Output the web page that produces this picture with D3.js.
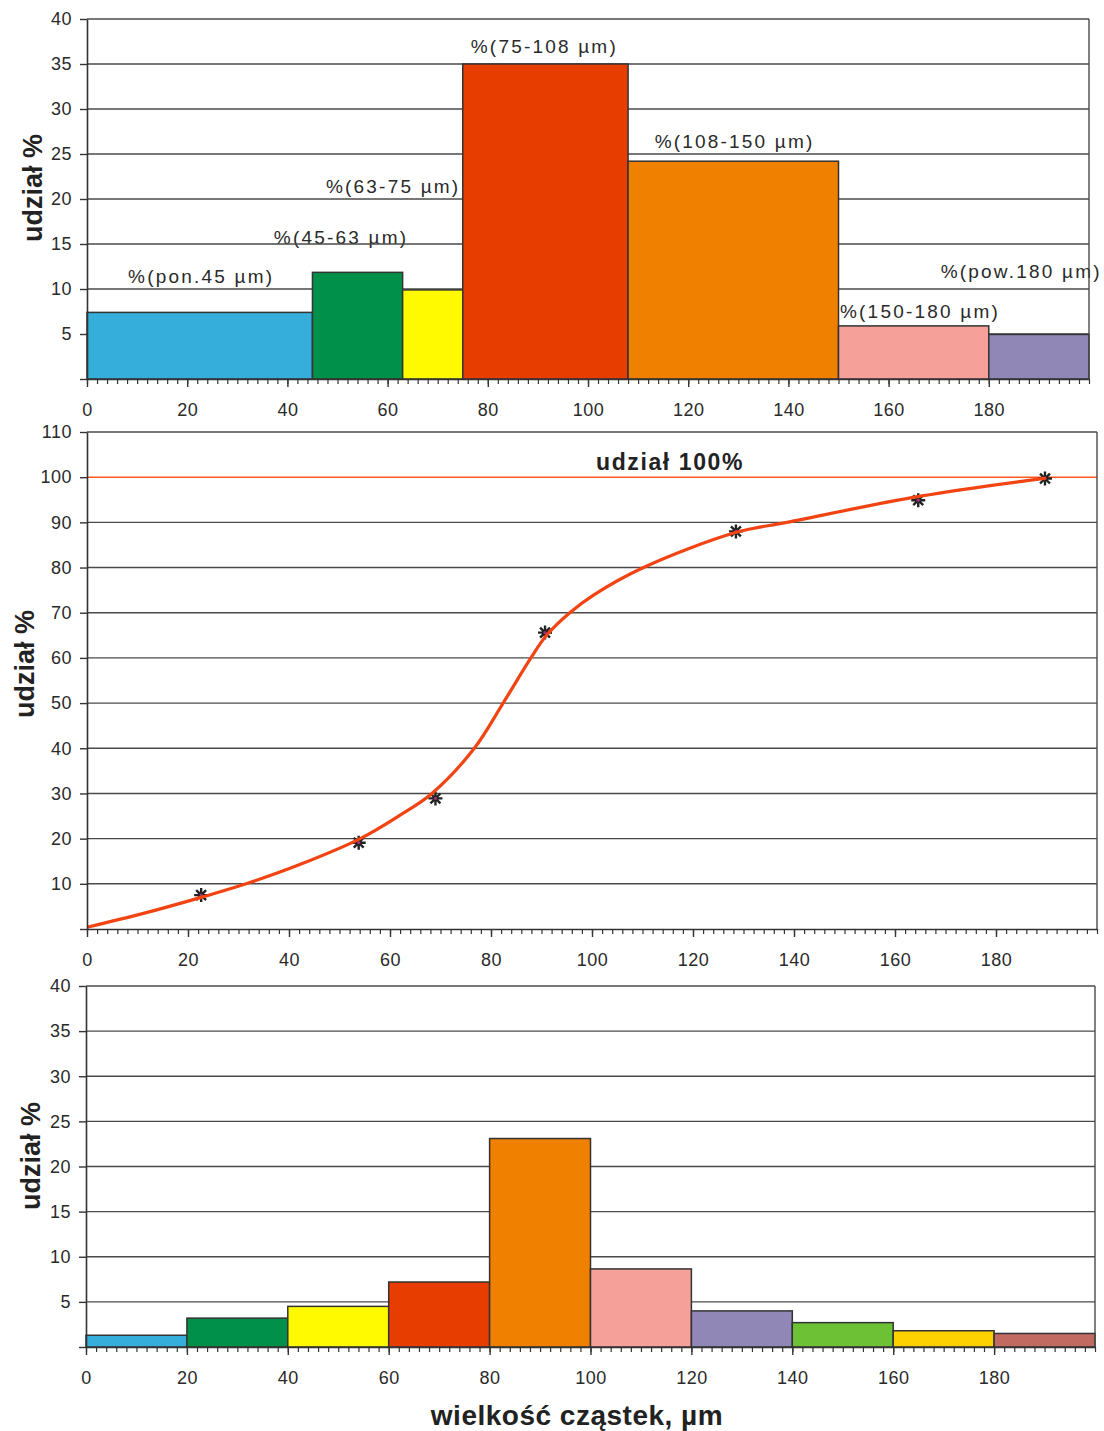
<!DOCTYPE html>
<html><head><meta charset="utf-8">
<script src="https://cdn.jsdelivr.net/npm/d3@7"></script>
<style>body{margin:0;background:#fff}</style>
</head><body><svg id="c" width="1104" height="1431"></svg>
<script>
// ---------- DATA ----------
// Top histogram (fraction classes)
const topBinStart = [0, 45, 63, 75, 108, 150, 180];
const topBinEnd   = [45, 63, 75, 108, 150, 180, 200];
const topValues   = [7.4, 11.85, 9.9, 35, 24.2, 5.9, 4.95];
const topColors   = ["#36aedb","#00904a","#fffa00","#e83d00","#f08000","#f6a09a","#9087b7"];
const topLabels   = ["%(pon.45 µm)","%(45-63 µm)","%(63-75 µm)","%(75-108 µm)","%(108-150 µm)","%(150-180 µm)","%(pow.180 µm)"];
const topLabelX   = [8.2, 37.3, 47.7, 76.6, 113.3, 150.3, 170.4];   // µm (left of label)
const topLabelY   = [10.7, 15.0, 20.7, 36.2, 25.7, 6.8, 11.2];      // % (baseline)

// Middle: cumulative curve
const scatterX = [22.6, 53.8, 69, 90.7, 128.5, 164.6, 189.7];
const scatterY = [7.5, 19.1, 28.9, 65.6, 88.0, 94.9, 99.7];
const curveX = [0, 11, 22.6, 31.5, 42, 54.1, 62, 68.3, 76.7, 82.4, 87.9, 91, 95.6, 100.3, 110.2, 128.6, 138.6, 165, 189.9];
const curveY = [0.4, 3.4, 7.0, 10, 14.2, 20, 25.2, 30, 40, 50, 60, 65, 70, 73.9, 80, 87.8, 90, 95.8, 99.8];
const refLineValue = 100;
const refLineLabel = "udział 100%";

// Bottom histogram (20 µm classes)
const botBinStart = [0, 20, 40, 60, 80, 100, 120, 140, 160, 180];
const botBinEnd   = [20, 40, 60, 80, 100, 120, 140, 160, 180, 200];
const botValues   = [1.3, 3.2, 4.5, 7.2, 23.1, 8.65, 4.0, 2.7, 1.8, 1.5];
const botColors   = ["#36aedb","#00904a","#fffa00","#e83d00","#f08000","#f6a09a","#9087b7","#6cc135","#fdd000","#c06a62"];

const xMajorTicks = [0,20,40,60,80,100,120,140,160,180];
const yLabel = "udział %";
const xTitle = "wielkość cząstek, µm";

// ---------- DRAW ----------
const svg = d3.select("#c");
svg.append("rect").attr("width",1104).attr("height",1431).attr("fill","#fff");
const FONT = "'Liberation Sans', Arial, sans-serif";
const GRID = "#4a4a4a";

function panel(o) {
  const x = d3.scaleLinear().domain([0,200]).range([o.x0, o.x1]);
  const y = d3.scaleLinear().domain([0,o.yMax]).range([o.yBot, o.yTop]);
  const g = svg.append("g");
  const layers = {
    labels: g.append("g"),
    grid: g.append("g"),
    marks: g.append("g"),
    axes: g.append("g")
  };
  const gv = d3.range(o.yStep, o.yMax + 0.001, o.yStep).filter(v => !(o.skipGrid||[]).includes(v));
  layers.grid.selectAll("line").data(gv).join("line")
    .attr("x1", o.x0).attr("x2", o.x1)
    .attr("y1", d => y(d)).attr("y2", d => y(d))
    .attr("stroke", GRID).attr("stroke-width", 1.4);
  layers.axes.append("line").attr("x1", o.x1).attr("x2", o.x1)
    .attr("y1", o.yTop).attr("y2", o.yBot).attr("stroke", GRID).attr("stroke-width", 1.4);
  const minor = layers.axes.append("g").attr("transform", `translate(0,${o.yBot})`)
    .call(d3.axisBottom(x).tickValues(d3.range(0, 201, 2)).tickSize(5).tickSizeOuter(0).tickFormat(""));
  minor.select(".domain").remove();
  minor.selectAll("line").attr("stroke", "#333").attr("stroke-width", 1.2);
  const major = layers.axes.append("g").attr("transform", `translate(0,${o.yBot})`)
    .call(d3.axisBottom(x).tickValues(xMajorTicks).tickSize(8).tickSizeOuter(0).tickPadding(16).tickFormat(d3.format("d")));
  major.select(".domain").attr("stroke", "#333").attr("stroke-width", 1.6);
  major.selectAll("line").attr("stroke", "#333").attr("stroke-width", 1.4);
  major.selectAll("text").attr("font-family", FONT).attr("font-size", 18).attr("fill", "#2a2a2a")
    .attr("letter-spacing", 0.5);
  const ya = layers.axes.append("g").attr("transform", `translate(${o.x0},0)`)
    .call(d3.axisLeft(y).tickValues(d3.range(0, o.yMax + 0.001, o.yStep)).tickSize(7).tickSizeOuter(0).tickPadding(8)
      .tickFormat(d => d === 0 ? "" : d));
  ya.select(".domain").attr("stroke", "#333").attr("stroke-width", 1.6);
  ya.selectAll("line").attr("stroke", "#333").attr("stroke-width", 1.4);
  ya.selectAll("text").attr("font-family", FONT).attr("font-size", 18).attr("fill", "#2a2a2a")
    .attr("letter-spacing", 0.5);
  svg.append("text").attr("transform", `translate(${o.ylx},${o.yly}) rotate(-90)`)
    .attr("text-anchor", "middle").attr("dominant-baseline", "central")
    .attr("font-family", FONT).attr("font-weight", "bold").attr("font-size", 27)
    .attr("fill", "#222").text(yLabel);
  return {x, y, layers};
}

function bars(p, starts, ends, vals, cols) {
  p.layers.marks.selectAll("rect").data(vals).join("rect")
    .attr("x", (d,i) => p.x(starts[i]))
    .attr("width", (d,i) => p.x(ends[i]) - p.x(starts[i]))
    .attr("y", d => p.y(d))
    .attr("height", d => p.y(0) - p.y(d))
    .attr("fill", (d,i) => cols[i])
    .attr("stroke", "#333").attr("stroke-width", 1.5);
}

// top
const pTop = panel({x0:87, x1:1089, yTop:19, yBot:379, yMax:40, yStep:5, ylx:33, yly:188});
bars(pTop, topBinStart, topBinEnd, topValues, topColors);
pTop.layers.labels.selectAll("text").data(topLabels).join("text")
  .attr("x", (d,i) => pTop.x(topLabelX[i]))
  .attr("y", (d,i) => pTop.y(topLabelY[i]))
  .attr("font-family", FONT).attr("font-size", 19).attr("letter-spacing", 2.2)
  .attr("fill", "#2a2a2a").text(d => d);

// middle
const pMid = panel({x0:87, x1:1097, yTop:432, yBot:929, yMax:110, yStep:10, ylx:25, yly:664, skipGrid:[100]});
pMid.layers.marks.append("line")
  .attr("x1", 87).attr("x2", 1097)
  .attr("y1", pMid.y(refLineValue)).attr("y2", pMid.y(refLineValue))
  .attr("stroke", "#ff5a1f").attr("stroke-width", 1.5);
pMid.layers.marks.append("text")
  .attr("x", pMid.x(100.8)).attr("y", pMid.y(101.7))
  .attr("font-family", FONT).attr("font-weight", "bold").attr("font-size", 23).attr("letter-spacing", 1.6)
  .attr("fill", "#222").text(refLineLabel);
// asterisk markers (8 arms), drawn first so the curve passes over them
const star8 = { draw(ctx, size) { const r = Math.sqrt(size) / 2;
  for (let k = 0; k < 4; k++) { const a = k * Math.PI / 4;
    ctx.moveTo(-r * Math.cos(a), -r * Math.sin(a)); ctx.lineTo(r * Math.cos(a), r * Math.sin(a)); } } };
const sym = d3.symbol(star8, 196);
const pts = pMid.layers.marks.append("g");
pts.selectAll("path").data(scatterX).join("path")
  .attr("transform", (d,i) => `translate(${pMid.x(d)},${pMid.y(scatterY[i])})`)
  .attr("d", sym).attr("fill", "none").attr("stroke", "#222").attr("stroke-width", 2.4);
pts.selectAll("circle").data(scatterX).join("circle")
  .attr("cx", d => pMid.x(d)).attr("cy", (d,i) => pMid.y(scatterY[i])).attr("r", 1.6)
  .attr("fill", "#a0307a");
const line = d3.line().x(d => pMid.x(d[0])).y(d => pMid.y(d[1])).curve(d3.curveCatmullRom.alpha(0.5));
pMid.layers.marks.append("path")
  .attr("d", line(curveX.map((v,i) => [v, curveY[i]])))
  .attr("fill", "none").attr("stroke", "#f24412").attr("stroke-width", 3.2);

// bottom
const pBot = panel({x0:86, x1:1095, yTop:986, yBot:1347, yMax:40, yStep:5, ylx:31, yly:1156});
bars(pBot, botBinStart, botBinEnd, botValues, botColors);
svg.append("text").attr("x", 577).attr("y", 1425).attr("text-anchor", "middle")
  .attr("font-family", FONT).attr("font-weight", "bold").attr("font-size", 28).attr("letter-spacing", 0.5)
  .attr("fill", "#222").text(xTitle);
</script></body></html>
